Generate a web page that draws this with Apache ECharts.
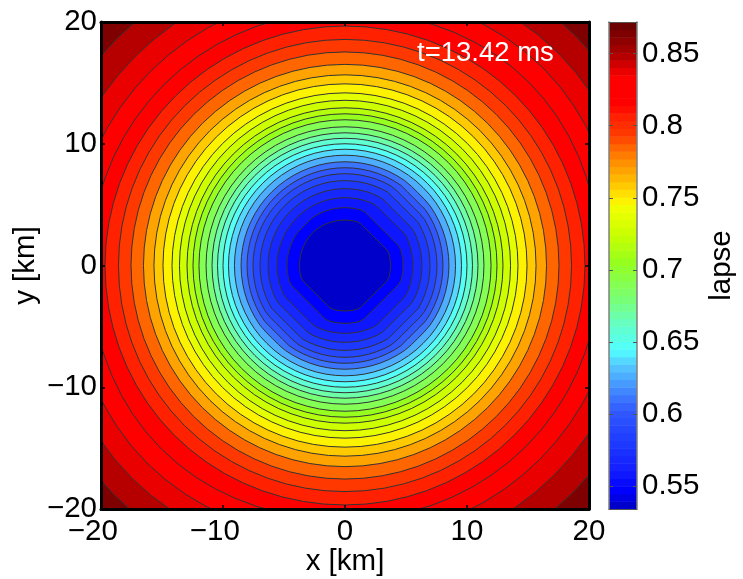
<!DOCTYPE html>
<html><head><meta charset="utf-8">
<script src="https://cdn.jsdelivr.net/npm/echarts@6/dist/echarts.min.js"></script>
<style>html,body{margin:0;padding:0;background:#fff}#c{width:743px;height:579px}</style>
</head><body><div id="c"></div>
<script>
// Contour levels (inner to outer)
const contourLevels = [0.5453,0.5566,0.5679,0.5792,0.5905,0.6018,0.6131,0.6244,0.6357,0.6470,0.6583,0.6696,0.6809,0.6922,0.7035,0.7148,0.7261,0.7374,0.7487,0.7600,0.7713,0.7826,0.7939,0.8052,0.8165,0.8278,0.8391,0.8504,0.8617];
// Contour radius in km, read along the axes and along the diagonals
const radiusAxis = [3.73,4.75,5.57,6.31,6.97,7.54,8.03,8.52,9.06,9.55,10.0,10.45,10.9,11.39,11.97,12.46,12.95,13.57,14.18,14.92,15.66,16.52,17.54,18.57,19.67,20.9,22.46,24.18,26.15];
const radiusNE   = [3.33,4.25,5.3,6.05,6.75,7.35,7.9,8.45,9.05,9.55,10.0,10.45,10.9,11.39,11.97,12.46,12.95,13.57,14.18,14.92,15.66,16.52,17.54,18.6,19.75,21.3,22.95,24.7,26.7];
const radiusNW   = [3.77,4.67,5.57,6.31,6.97,7.54,8.03,8.52,9.06,9.55,10.0,10.45,10.9,11.39,11.97,12.46,12.95,13.57,14.18,14.92,15.66,16.52,17.54,18.57,19.67,21.0,22.55,24.3,26.4];
const radiusSE   = [3.33,4.2,5.3,6.05,6.75,7.35,7.9,8.45,9.05,9.55,10.0,10.45,10.9,11.39,11.97,12.46,12.95,13.57,14.18,14.92,15.66,16.52,17.54,18.57,19.67,21.0,22.55,24.3,26.4];
// Colour bar
const colorMin = 0.534, colorMax = 0.872, colorBands = 64;
const stopValues = [0.534,0.5472,0.5611,0.5819,0.6027,0.6201,0.634,0.6444,0.6617,0.6791,0.7054,0.7242,0.745,0.7485,0.7589,0.7727,0.7832,0.7936,0.8075,0.8144,0.8331,0.8387,0.8505,0.872];
const stopColors = [[0,0,190],[0,0,255],[20,30,255],[30,60,255],[50,90,255],[70,150,255],[85,200,255],[80,255,255],[100,255,200],[120,255,120],[150,255,30],[200,255,0],[245,255,0],[255,240,0],[255,200,0],[255,150,0],[255,110,0],[255,60,0],[255,30,0],[255,0,0],[255,0,0],[230,0,0],[170,0,0],[100,0,0]];
const colorTicks = [0.55,0.6,0.65,0.7,0.75,0.8,0.85];
const timeLabel = 't=13.42 ms';

function colormap(v){
  const idx = Math.min(colorBands-1, Math.max(0, Math.floor((v-colorMin)/(colorMax-colorMin)*colorBands)));
  const c = colorMin + (idx+0.5)*(colorMax-colorMin)/colorBands;
  let i = 0;
  while(i < stopValues.length-2 && c > stopValues[i+1]) i++;
  const t = Math.min(1, Math.max(0, (c-stopValues[i])/(stopValues[i+1]-stopValues[i])));
  const a = stopColors[i], b = stopColors[i+1];
  return 'rgb('+[0,1,2].map(k=>Math.round(a[k]+(b[k]-a[k])*t)).join(',')+')';
}
// Near the centre the contours have straight chords across the diagonals; further out they are round
function radiusAt(i, deg){
  const diag = [radiusNE[i],radiusNW[i],radiusNE[i],radiusSE[i]];
  const q = Math.min(3, Math.floor(deg/90));
  const off = Math.abs(deg-(q*90+45));
  const ax = radiusAxis[i], d = diag[q];
  if(d < ax) return Math.min(ax, d/Math.cos(off*Math.PI/180));
  const w = (1+Math.cos(Math.PI*off/45))/2;
  return ax+(d-ax)*w;
}
const contourRows = contourLevels.map((l,i)=>[i,l]).reverse();
const bandRows = [];
for(let b=0;b<colorBands;b++){
  const lo = colorMin+b*(colorMax-colorMin)/colorBands, hi = colorMin+(b+1)*(colorMax-colorMin)/colorBands;
  bandRows.push([lo,hi]);
}
const FONT = '"Liberation Sans"', FS = 29.5;
const chart = echarts.init(document.getElementById('c'), null, {renderer:'canvas'});
function spatialAxis(extra){
  return Object.assign({type:'value',min:-20,max:20,interval:10,gridIndex:0,z:5,
    axisLine:{show:true,onZero:false,lineStyle:{color:'#000',width:3}},
    axisTick:{show:true,inside:true,length:4,lineStyle:{color:'#000',width:1.5}},
    splitLine:{show:false}},extra);
}
const tickFmt = v => v<0 ? '\u2212'+Math.abs(v) : String(v);
chart.setOption({
  animation:false,
  backgroundColor:'#fff',
  title:{text:timeLabel,left:412,top:34,textStyle:{color:'#fff',fontFamily:FONT,fontSize:27.5,fontWeight:'normal'}},
  grid:[
    {left:101,top:22,width:488,height:487,outerBoundsMode:'none',show:true,backgroundColor:colormap(colorMax-0.0097),borderWidth:0},
    {left:609,top:22,width:28,height:487,outerBoundsMode:'none',show:false}
  ],
  xAxis:[
    spatialAxis({position:'bottom',name:'x [km]',nameLocation:'middle',nameGap:38,nameMoveOverlap:false,
      nameTextStyle:{fontFamily:FONT,fontSize:FS,color:'#000'},
      axisLabel:{show:true,margin:8,fontFamily:FONT,fontSize:FS,color:'#000',
        formatter:v=>v<0?tickFmt(v)+'\u00a0\u00a0':tickFmt(v)}}),
    spatialAxis({position:'top',axisLabel:{show:false}}),
    {type:'value',gridIndex:1,min:0,max:1,position:'bottom',axisLine:{show:true,onZero:false,lineStyle:{color:'#555',width:1}},axisTick:{show:false},axisLabel:{show:false},splitLine:{show:false},z:5},
    {type:'value',gridIndex:1,min:0,max:1,position:'top',axisLine:{show:true,onZero:false,lineStyle:{color:'#555',width:1}},axisTick:{show:false},axisLabel:{show:false},splitLine:{show:false},z:5}
  ],
  yAxis:[
    spatialAxis({position:'left',name:'y [km]',nameLocation:'middle',nameGap:60,nameRotate:90,nameMoveOverlap:false,
      nameTextStyle:{fontFamily:FONT,fontSize:FS,color:'#000'},
      axisLabel:{show:true,margin:4,padding:[4,0,0,0],fontFamily:FONT,fontSize:FS,color:'#000',formatter:tickFmt}}),
    spatialAxis({position:'right',axisLabel:{show:false}}),
    {type:'value',gridIndex:1,min:colorMin,max:colorMax,position:'right',z:5,
      name:'lapse',nameLocation:'middle',nameGap:70,nameRotate:90,
      nameTextStyle:{fontFamily:FONT,fontSize:FS,color:'#000'},
      axisLine:{show:true,onZero:false,lineStyle:{color:'#808080',width:1.5}},
      axisTick:{show:true,inside:true,length:4,customValues:colorTicks,lineStyle:{color:'#555',width:1}},
      axisLabel:{show:true,margin:5,padding:[5,0,0,0],fontFamily:FONT,fontSize:FS,color:'#000',customValues:colorTicks,formatter:v=>String(+v.toFixed(2))},
      splitLine:{show:false}},
    {type:'value',gridIndex:1,min:colorMin,max:colorMax,position:'left',z:5,
      axisLine:{show:true,onZero:false,lineStyle:{color:'#808080',width:1.5}},
      axisTick:{show:true,inside:true,length:4,customValues:colorTicks,lineStyle:{color:'#555',width:1}},
      axisLabel:{show:false},splitLine:{show:false}}
  ],
  series:[
    {type:'custom',xAxisIndex:0,yAxisIndex:0,clip:true,silent:true,z:2,data:contourRows,encode:{x:[],y:[]},
      renderItem:function(params,api){
        const i = api.value(0);
        const pts = [];
        for(let d=0;d<360;d+=5){
          const r = radiusAt(i,d), a = d*Math.PI/180;
          pts.push(api.coord([r*Math.cos(a),r*Math.sin(a)]));
        }
        const fillLevel = i===0 ? colorMin+0.001 : contourLevels[i-1];
        return {type:'polygon',shape:{points:pts},
          clipPath:{type:'rect',shape:{x:params.coordSys.x,y:params.coordSys.y,width:params.coordSys.width,height:params.coordSys.height}},
          style:{fill:colormap(fillLevel),stroke:'#333',lineWidth:1}};
      }},
    {type:'custom',xAxisIndex:2,yAxisIndex:2,silent:true,z:2,data:bandRows,encode:{x:[],y:[0,1]},
      renderItem:function(params,api){
        const lo = api.value(0), hi = api.value(1);
        const p0 = api.coord([0,hi]), p1 = api.coord([1,lo]);
        return {type:'rect',shape:{x:p0[0],y:p0[1],width:p1[0]-p0[0],height:p1[1]-p0[1]+0.5},
          style:{fill:colormap((lo+hi)/2)}};
      }}
  ]
});
</script></body></html>
